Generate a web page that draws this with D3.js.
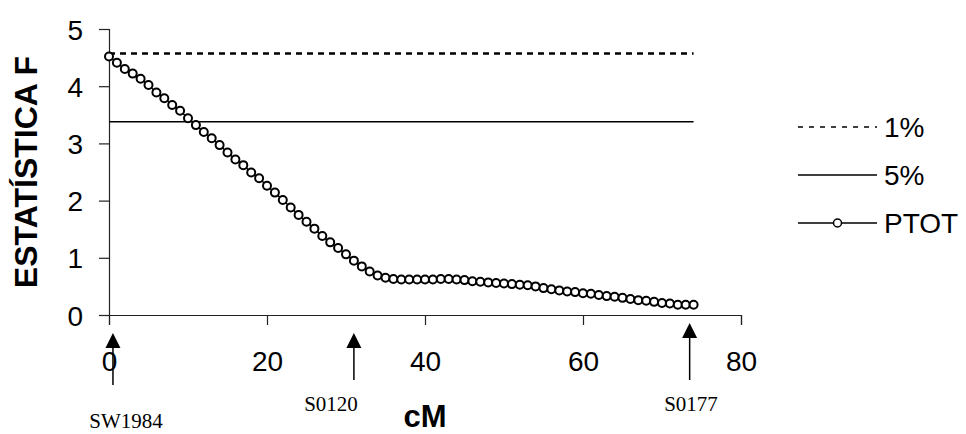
<!DOCTYPE html>
<html>
<head>
<meta charset="utf-8">
<script src="https://cdn.jsdelivr.net/npm/d3@7"></script>
<style>
  body { margin: 0; background: #fff; }
  svg { display: block; }
</style>
</head>
<body>
<div id="chart"></div>
<script>
// posiciones en cM
var posCM = [0, 1, 2, 3, 4, 5, 6, 7, 8, 9, 10, 11, 12, 13, 14, 15, 16, 17, 18, 19,
  20, 21, 22, 23, 24, 25, 26, 27, 28, 29, 30, 31, 32, 33, 34, 35, 36, 37, 38, 39,
  40, 41, 42, 43, 44, 45, 46, 47, 48, 49, 50, 51, 52, 53, 54, 55, 56, 57, 58, 59,
  60, 61, 62, 63, 64, 65, 66, 67, 68, 69, 70, 71, 72, 73, 74];
// estadistica F (PTOT)
var ptot = [4.52, 4.41, 4.30, 4.22, 4.13, 4.02, 3.89, 3.79, 3.67, 3.57,
  3.44, 3.32, 3.20, 3.09, 2.97, 2.84, 2.72, 2.62, 2.49, 2.39,
  2.26, 2.14, 2.01, 1.88, 1.75, 1.63, 1.51, 1.38, 1.27, 1.17,
  1.06, 0.95, 0.85, 0.76, 0.69, 0.65, 0.63, 0.62, 0.62, 0.62,
  0.62, 0.62, 0.63, 0.63, 0.62, 0.61, 0.59, 0.58, 0.57, 0.56,
  0.55, 0.54, 0.53, 0.52, 0.50, 0.47, 0.45, 0.43, 0.41, 0.40,
  0.38, 0.37, 0.35, 0.33, 0.32, 0.30, 0.28, 0.26, 0.25, 0.23,
  0.21, 0.20, 0.18, 0.18, 0.18];
// umbrales
var umbral1 = 4.57;
var umbral5 = 3.38;
var xTicks = [0, 20, 40, 60, 80];
var yTicks = [0, 1, 2, 3, 4, 5];
// marcadores
var marcadores = ["SW1984", "S0120", "S0177"];
var marcadoresCM = [0.5, 31, 73.5];
var leyenda = ["1%", "5%", "PTOT"];

var width = 966, height = 434;

var svg = d3.select("#chart")
  .append("svg")
  .attr("width", width)
  .attr("height", height);

var x = d3.scaleLinear().domain([0, 80]).range([109, 741]);
var y = d3.scaleLinear().domain([0, 5]).range([315, 29]);

// ejes
var xAxis = svg.append("g")
  .attr("transform", "translate(0," + y(0) + ")")
  .call(d3.axisBottom(x).tickValues(xTicks).tickSize(10).tickPadding(26).tickFormat(d3.format("d")));
var yAxis = svg.append("g")
  .attr("transform", "translate(" + x(0) + ",0)")
  .call(d3.axisLeft(y).tickValues(yTicks).tickSize(10).tickPadding(16).tickFormat(d3.format("d")));

[xAxis, yAxis].forEach(function(a) {
  a.select(".domain").attr("stroke", "#222").attr("stroke-width", 1.2);
  a.selectAll(".tick line").attr("stroke", "#222").attr("stroke-width", 1.2);
  a.selectAll("text")
    .attr("fill", "#000")
    .style("font-family", "Liberation Sans, Arial, sans-serif")
    .style("font-size", "28px");
});
xAxis.selectAll("text").attr("dy", "0.71em");
yAxis.selectAll("text").attr("dy", "0.36em");

// umbrales
var xmin = d3.min(posCM), xmax = d3.max(posCM);
svg.append("line")
  .attr("x1", x(xmin)).attr("x2", x(xmax))
  .attr("y1", y(umbral1)).attr("y2", y(umbral1))
  .attr("stroke", "#000").attr("stroke-width", 2.5)
  .attr("stroke-dasharray", "6,5");
svg.append("line")
  .attr("x1", x(xmin)).attr("x2", x(xmax))
  .attr("y1", y(umbral5)).attr("y2", y(umbral5))
  .attr("stroke", "#000").attr("stroke-width", 1.5);

// PTOT
var datos = posCM.map(function(d, i) { return { cm: d, f: ptot[i] }; });
var linea = d3.line()
  .x(function(d) { return x(d.cm); })
  .y(function(d) { return y(d.f); });
svg.append("path")
  .datum(datos)
  .attr("d", linea)
  .attr("fill", "none")
  .attr("stroke", "#000")
  .attr("stroke-width", 1.5);
svg.selectAll("circle.pt")
  .data(datos)
  .enter()
  .append("circle")
  .attr("class", "pt")
  .attr("cx", function(d) { return x(d.cm); })
  .attr("cy", function(d) { return y(d.f); })
  .attr("r", 4)
  .attr("fill", "#fff")
  .attr("stroke", "#000")
  .attr("stroke-width", 2);

// titulos
svg.append("text")
  .attr("transform", "translate(37," + (y(0) + y(5)) / 2 + ") rotate(-90)")
  .attr("text-anchor", "middle")
  .style("font-family", "Liberation Sans, Arial, sans-serif")
  .style("font-size", "32px")
  .style("font-weight", "bold")
  .text("ESTATÍSTICA F");
svg.append("text")
  .attr("x", x(40))
  .attr("y", 427)
  .attr("text-anchor", "middle")
  .style("font-family", "Liberation Sans, Arial, sans-serif")
  .style("font-size", "31px")
  .style("font-weight", "bold")
  .text("cM");

// flechas de marcadores
var flechaTop = [333, 333, 323];
var flechaFin = [385, 380, 380];
var etiquetaX = [126, 331, 691];
var etiquetaY = [428, 411, 411];
marcadores.forEach(function(m, i) {
  var cx = x(marcadoresCM[i]);
  var t = flechaTop[i];
  svg.append("line")
    .attr("x1", cx).attr("x2", cx)
    .attr("y1", t + 12).attr("y2", flechaFin[i])
    .attr("stroke", "#000").attr("stroke-width", 1.5);
  svg.append("path")
    .attr("d", "M" + cx + "," + t + " L" + (cx - 7.5) + "," + (t + 15) + " L" + (cx + 7.5) + "," + (t + 15) + " Z")
    .attr("fill", "#000");
  svg.append("text")
    .attr("x", etiquetaX[i])
    .attr("y", etiquetaY[i])
    .attr("text-anchor", "middle")
    .style("font-family", "Liberation Serif, Times New Roman, serif")
    .style("font-size", "21px")
    .text(m);
});

// leyenda
var leyY = [127, 175, 223];
var lx1 = 798, lx2 = 877;
leyenda.forEach(function(l, i) {
  var g = svg.append("g");
  var ln = g.append("line")
    .attr("x1", lx1).attr("x2", lx2)
    .attr("y1", leyY[i]).attr("y2", leyY[i])
    .attr("stroke", "#000").attr("stroke-width", 1.5);
  if (i == 0) ln.attr("stroke-dasharray", "5,6");
  if (i == 2) {
    g.append("circle")
      .attr("cx", (lx1 + lx2) / 2).attr("cy", leyY[i]).attr("r", 4)
      .attr("fill", "#fff").attr("stroke", "#000").attr("stroke-width", 1.5);
  }
  g.append("text")
    .attr("x", 884)
    .attr("y", leyY[i])
    .attr("dy", "0.36em")
    .style("font-family", "Liberation Sans, Arial, sans-serif")
    .style("font-size", "28px")
    .text(l);
});
</script>
</body>
</html>
